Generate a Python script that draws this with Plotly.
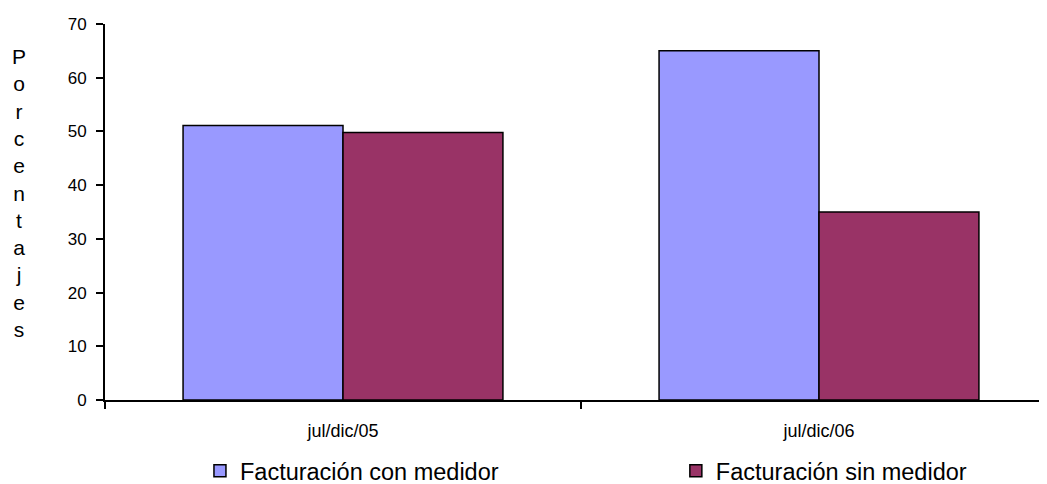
import plotly.graph_objects as go

categories = ["jul/dic/05", "jul/dic/06"]
con_medidor = [51.1, 65.0]
sin_medidor = [49.8, 35.0]
series_names = ["Facturación con medidor", "Facturación sin medidor"]
y_ticks = [0, 10, 20, 30, 40, 50, 60, 70]
y_title = "Porcentajes"

FONT = "Arial, Liberation Sans, sans-serif"

fig = go.Figure()
fig.add_trace(go.Bar(x=categories, y=con_medidor, name=series_names[0], legend="legend",
                     marker=dict(color="#9999FF", line=dict(color="black", width=1.5))))
fig.add_trace(go.Bar(x=categories, y=sin_medidor, name=series_names[1], legend="legend2",
                     marker=dict(color="#993366", line=dict(color="black", width=1.5))))

legend_common = dict(orientation="h", y=-0.13, yanchor="top", xanchor="left",
                     font=dict(size=23.5, family=FONT), itemwidth=30,
                     bgcolor="rgba(0,0,0,0)")

fig.update_layout(
    width=1039, height=476,
    margin=dict(l=97, r=0, t=16, b=84, autoexpand=False),
    paper_bgcolor="white", plot_bgcolor="white",
    barmode="group", bargap=0.328, bargroupgap=0,
    font=dict(family=FONT, color="black"),
    showlegend=True,
    legend=dict(x=0.1008, **legend_common),
    legend2=dict(x=0.606, **legend_common),
    annotations=[dict(text="<br>".join(list(y_title)), xref="paper", yref="paper",
                      x=-0.0913, y=0.55, xanchor="center", yanchor="middle",
                      showarrow=False, font=dict(size=21, family=FONT))],
)
fig.update_xaxes(type="category", range=[-0.5, 1.479], showline=True, linecolor="black",
                 linewidth=2, ticks="outside", tickson="boundaries", ticklen=7,
                 tickcolor="black", tickwidth=2, showgrid=False, ticklabelstandoff=13,
                 tickfont=dict(size=18, family=FONT))
fig.update_yaxes(range=[0, 70], tickvals=y_ticks, showline=True, linecolor="black",
                 linewidth=2, ticks="outside", ticklen=7, tickcolor="black", tickwidth=2,
                 showgrid=False, zeroline=False, ticklabelstandoff=6,
                 tickfont=dict(size=17, family=FONT))

fig.write_html("out.html")
